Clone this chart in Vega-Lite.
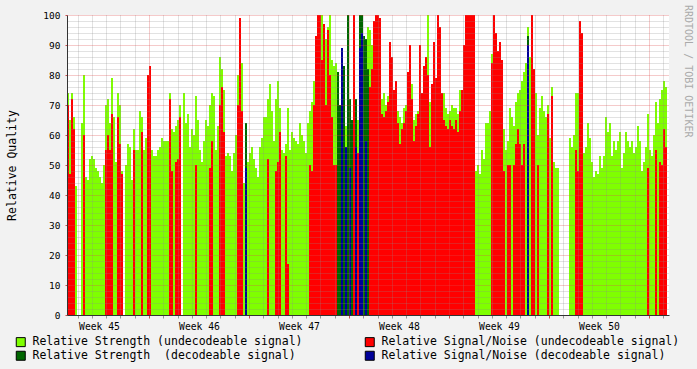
{
"$schema": "https://vega.github.io/schema/vega-lite/v6.json",
"width": 602, "height": 300,
"autosize": "none",
"padding": {"left": 67, "top": 15, "right": 28, "bottom": 54},
"background": "#F2F2F2",
"config": {
  "view": {"fill": "#FFFFFF", "stroke": null},
  "font": "DejaVu Sans Mono",
  "axis": {"labelFont": "DejaVu Sans Mono", "titleFont": "DejaVu Sans Mono", "labelColor": "#000000", "titleColor": "#000000", "titleFontWeight": "normal"}
},
"title": {"text": "RRDTOOL / TOBI OETIKER", "orient": "right", "anchor": "start", "frame": "group", "fontSize": 10, "font": "DejaVu Sans Mono", "fontWeight": "normal", "color": "#AAAAAA", "offset": 3, "dx": -10},
"data": {"values": [
{"t":1.26,"g":74,"r":70,"d":0,"b":0},{"t":1.40,"g":65,"r":47,"d":0,"b":0},{"t":1.54,"g":74,"r":72,"d":0,"b":0},{"t":1.68,"g":66,"r":62,"d":0,"b":0},{"t":1.82,"g":43,"r":0,"d":0,"b":0},
{"t":1.96,"g":0,"r":0,"d":0,"b":0},{"t":2.10,"g":0,"r":0,"d":0,"b":0},{"t":2.24,"g":64,"r":0,"d":0,"b":0},{"t":2.38,"g":80,"r":60,"d":0,"b":0},{"t":2.52,"g":46,"r":0,"d":0,"b":0},
{"t":2.66,"g":45,"r":0,"d":0,"b":0},{"t":2.80,"g":52,"r":0,"d":0,"b":0},{"t":2.94,"g":53,"r":0,"d":0,"b":0},{"t":3.08,"g":52,"r":0,"d":0,"b":0},{"t":3.22,"g":49,"r":0,"d":0,"b":0},
{"t":3.36,"g":48,"r":0,"d":0,"b":0},{"t":3.50,"g":46,"r":0,"d":0,"b":0},{"t":3.64,"g":44,"r":0,"d":0,"b":0},{"t":3.78,"g":50,"r":0,"d":0,"b":0},{"t":3.92,"g":70,"r":55,"d":0,"b":0},
{"t":4.06,"g":72,"r":60,"d":0,"b":0},{"t":4.20,"g":64,"r":55,"d":0,"b":0},{"t":4.34,"g":79,"r":67,"d":0,"b":0},{"t":4.48,"g":66,"r":0,"d":0,"b":0},{"t":4.62,"g":51,"r":0,"d":0,"b":0},
{"t":4.76,"g":74,"r":66,"d":0,"b":0},{"t":4.90,"g":70,"r":57,"d":0,"b":0},{"t":5.04,"g":48,"r":47,"d":0,"b":0},{"t":5.18,"g":0,"r":0,"d":0,"b":0},{"t":5.32,"g":50,"r":0,"d":0,"b":0},
{"t":5.46,"g":57,"r":0,"d":0,"b":0},{"t":5.60,"g":56,"r":0,"d":0,"b":0},{"t":5.74,"g":45,"r":0,"d":0,"b":0},{"t":5.88,"g":62,"r":55,"d":0,"b":0},{"t":6.02,"g":55,"r":0,"d":0,"b":0},
{"t":6.16,"g":55,"r":0,"d":0,"b":0},{"t":6.30,"g":68,"r":0,"d":0,"b":0},{"t":6.44,"g":66,"r":61,"d":0,"b":0},{"t":6.58,"g":55,"r":0,"d":0,"b":0},{"t":6.72,"g":59,"r":0,"d":0,"b":0},
{"t":6.86,"g":62,"r":80,"d":0,"b":0},{"t":7.00,"g":62,"r":83,"d":0,"b":0},{"t":7.14,"g":55,"r":0,"d":0,"b":0},{"t":7.28,"g":53,"r":0,"d":0,"b":0},{"t":7.42,"g":53,"r":0,"d":0,"b":0},
{"t":7.56,"g":55,"r":0,"d":0,"b":0},{"t":7.70,"g":56,"r":0,"d":0,"b":0},{"t":7.84,"g":59,"r":0,"d":0,"b":0},{"t":7.98,"g":58,"r":0,"d":0,"b":0},{"t":8.12,"g":58,"r":0,"d":0,"b":0},
{"t":8.26,"g":58,"r":0,"d":0,"b":0},{"t":8.40,"g":74,"r":72,"d":0,"b":0},{"t":8.54,"g":62,"r":48,"d":0,"b":0},{"t":8.68,"g":61,"r":0,"d":0,"b":0},{"t":8.82,"g":63,"r":51,"d":0,"b":0},
{"t":8.96,"g":65,"r":52,"d":0,"b":0},{"t":9.10,"g":70,"r":66,"d":0,"b":0},{"t":9.24,"g":0,"r":0,"d":0,"b":0},{"t":9.38,"g":74,"r":0,"d":0,"b":0},{"t":9.52,"g":64,"r":0,"d":0,"b":0},
{"t":9.66,"g":67,"r":0,"d":0,"b":0},{"t":9.80,"g":56,"r":0,"d":0,"b":0},{"t":9.94,"g":62,"r":0,"d":0,"b":0},{"t":10.08,"g":60,"r":0,"d":0,"b":0},{"t":10.22,"g":73,"r":50,"d":0,"b":0},
{"t":10.36,"g":65,"r":0,"d":0,"b":0},{"t":10.50,"g":55,"r":0,"d":0,"b":0},{"t":10.64,"g":51,"r":0,"d":0,"b":0},{"t":10.78,"g":58,"r":0,"d":0,"b":0},{"t":10.92,"g":65,"r":0,"d":0,"b":0},
{"t":11.06,"g":63,"r":0,"d":0,"b":0},{"t":11.20,"g":70,"r":49,"d":0,"b":0},{"t":11.34,"g":74,"r":58,"d":0,"b":0},{"t":11.48,"g":73,"r":0,"d":0,"b":0},{"t":11.62,"g":55,"r":0,"d":0,"b":0},
{"t":11.76,"g":63,"r":0,"d":0,"b":0},{"t":11.90,"g":86,"r":70,"d":0,"b":0},{"t":12.04,"g":82,"r":76,"d":0,"b":0},{"t":12.18,"g":75,"r":61,"d":0,"b":0},{"t":12.32,"g":53,"r":0,"d":0,"b":0},
{"t":12.46,"g":54,"r":0,"d":0,"b":0},{"t":12.60,"g":53,"r":0,"d":0,"b":0},{"t":12.74,"g":48,"r":0,"d":0,"b":0},{"t":12.88,"g":54,"r":0,"d":0,"b":0},{"t":13.02,"g":60,"r":0,"d":0,"b":0},
{"t":13.16,"g":80,"r":70,"d":0,"b":0},{"t":13.30,"g":87,"r":99,"d":0,"b":0},{"t":13.44,"g":84,"r":68,"d":0,"b":0},{"t":13.58,"g":44,"r":0,"d":0,"b":0},{"t":13.72,"g":55,"r":0,"d":64,"b":49},
{"t":13.86,"g":51,"r":0,"d":0,"b":0},{"t":14.00,"g":54,"r":0,"d":0,"b":0},{"t":14.14,"g":56,"r":0,"d":0,"b":0},{"t":14.28,"g":52,"r":0,"d":0,"b":0},{"t":14.42,"g":49,"r":0,"d":0,"b":0},
{"t":14.56,"g":46,"r":0,"d":0,"b":0},{"t":14.70,"g":56,"r":0,"d":0,"b":0},{"t":14.84,"g":59,"r":0,"d":0,"b":0},{"t":14.98,"g":66,"r":0,"d":0,"b":0},{"t":15.12,"g":66,"r":0,"d":0,"b":0},
{"t":15.26,"g":72,"r":52,"d":0,"b":0},{"t":15.40,"g":77,"r":0,"d":0,"b":0},{"t":15.54,"g":68,"r":0,"d":0,"b":0},{"t":15.68,"g":58,"r":0,"d":0,"b":0},{"t":15.82,"g":72,"r":48,"d":0,"b":0},
{"t":15.96,"g":78,"r":51,"d":0,"b":0},{"t":16.10,"g":69,"r":61,"d":0,"b":0},{"t":16.24,"g":55,"r":0,"d":0,"b":0},{"t":16.38,"g":54,"r":0,"d":0,"b":0},{"t":16.52,"g":57,"r":53,"d":0,"b":0},
{"t":16.66,"g":69,"r":17,"d":0,"b":0},{"t":16.80,"g":55,"r":0,"d":0,"b":0},{"t":16.94,"g":61,"r":0,"d":0,"b":0},{"t":17.08,"g":59,"r":0,"d":0,"b":0},{"t":17.22,"g":58,"r":0,"d":0,"b":0},
{"t":17.36,"g":57,"r":0,"d":0,"b":0},{"t":17.50,"g":64,"r":0,"d":0,"b":0},{"t":17.64,"g":60,"r":0,"d":0,"b":0},{"t":17.78,"g":58,"r":0,"d":0,"b":0},{"t":17.92,"g":54,"r":0,"d":0,"b":0},
{"t":18.06,"g":64,"r":0,"d":0,"b":0},{"t":18.20,"g":68,"r":50,"d":0,"b":0},{"t":18.34,"g":71,"r":48,"d":0,"b":0},{"t":18.48,"g":78,"r":70,"d":0,"b":0},{"t":18.62,"g":70,"r":93,"d":0,"b":0},
{"t":18.76,"g":80,"r":100,"d":0,"b":0},{"t":18.90,"g":100,"r":100,"d":0,"b":0},{"t":19.04,"g":100,"r":85,"d":0,"b":0},{"t":19.18,"g":90,"r":97,"d":0,"b":0},{"t":19.32,"g":92,"r":70,"d":0,"b":0},
{"t":19.46,"g":96,"r":95,"d":0,"b":0},{"t":19.60,"g":100,"r":80,"d":0,"b":0},{"t":19.74,"g":85,"r":66,"d":0,"b":0},{"t":19.88,"g":83,"r":50,"d":0,"b":0},{"t":20.02,"g":84,"r":50,"d":0,"b":0},
{"t":20.16,"g":68,"r":0,"d":81,"b":0},{"t":20.30,"g":0,"r":0,"d":70,"b":0},{"t":20.44,"g":0,"r":0,"d":83,"b":89},{"t":20.58,"g":0,"r":0,"d":83,"b":0},{"t":20.72,"g":63,"r":0,"d":0,"b":56},
{"t":20.86,"g":0,"r":0,"d":100,"b":0},{"t":21.00,"g":65,"r":0,"d":72,"b":49},{"t":21.14,"g":65,"r":0,"d":65,"b":0},{"t":21.28,"g":0,"r":100,"d":0,"b":0},{"t":21.42,"g":0,"r":0,"d":72,"b":56},
{"t":21.56,"g":65,"r":54,"d":0,"b":0},{"t":21.70,"g":0,"r":0,"d":100,"b":89},{"t":21.84,"g":0,"r":0,"d":100,"b":94},{"t":21.98,"g":0,"r":0,"d":93,"b":0},{"t":22.12,"g":0,"r":0,"d":92,"b":58},
{"t":22.26,"g":96,"r":0,"d":82,"b":0},{"t":22.40,"g":95,"r":76,"d":0,"b":0},{"t":22.54,"g":90,"r":82,"d":0,"b":0},{"t":22.68,"g":0,"r":98,"d":0,"b":0},{"t":22.82,"g":0,"r":100,"d":0,"b":0},
{"t":22.96,"g":0,"r":100,"d":0,"b":0},{"t":23.10,"g":0,"r":99,"d":0,"b":0},{"t":23.24,"g":72,"r":67,"d":0,"b":0},{"t":23.38,"g":74,"r":66,"d":0,"b":0},{"t":23.52,"g":70,"r":68,"d":0,"b":0},
{"t":23.66,"g":73,"r":71,"d":0,"b":0},{"t":23.80,"g":0,"r":91,"d":0,"b":0},{"t":23.94,"g":0,"r":86,"d":0,"b":0},{"t":24.08,"g":0,"r":75,"d":0,"b":0},{"t":24.22,"g":0,"r":78,"d":0,"b":0},
{"t":24.36,"g":68,"r":64,"d":0,"b":0},{"t":24.50,"g":66,"r":57,"d":0,"b":0},{"t":24.64,"g":64,"r":62,"d":0,"b":0},{"t":24.78,"g":69,"r":64,"d":0,"b":0},{"t":24.92,"g":70,"r":68,"d":0,"b":0},
{"t":25.06,"g":0,"r":81,"d":0,"b":0},{"t":25.20,"g":0,"r":90,"d":0,"b":0},{"t":25.34,"g":77,"r":72,"d":0,"b":0},{"t":25.48,"g":65,"r":58,"d":0,"b":0},{"t":25.62,"g":67,"r":63,"d":0,"b":0},
{"t":25.76,"g":68,"r":67,"d":0,"b":0},{"t":25.90,"g":0,"r":90,"d":0,"b":0},{"t":26.04,"g":0,"r":74,"d":0,"b":0},{"t":26.18,"g":0,"r":83,"d":0,"b":0},{"t":26.32,"g":0,"r":86,"d":0,"b":0},
{"t":26.46,"g":100,"r":80,"d":0,"b":0},{"t":26.60,"g":71,"r":56,"d":0,"b":0},{"t":26.74,"g":0,"r":77,"d":0,"b":0},{"t":26.88,"g":0,"r":91,"d":0,"b":0},{"t":27.02,"g":0,"r":79,"d":0,"b":0},
{"t":27.16,"g":0,"r":100,"d":0,"b":0},{"t":27.30,"g":0,"r":96,"d":0,"b":0},{"t":27.44,"g":0,"r":74,"d":0,"b":0},{"t":27.58,"g":74,"r":65,"d":0,"b":0},{"t":27.72,"g":69,"r":63,"d":0,"b":0},
{"t":27.86,"g":67,"r":62,"d":0,"b":0},{"t":28.00,"g":68,"r":65,"d":0,"b":0},{"t":28.14,"g":70,"r":63,"d":0,"b":0},{"t":28.28,"g":69,"r":62,"d":0,"b":0},{"t":28.42,"g":69,"r":65,"d":0,"b":0},
{"t":28.56,"g":67,"r":61,"d":0,"b":0},{"t":28.70,"g":75,"r":68,"d":0,"b":0},{"t":28.84,"g":0,"r":75,"d":0,"b":0},{"t":28.98,"g":0,"r":90,"d":0,"b":0},{"t":29.12,"g":0,"r":100,"d":0,"b":0},
{"t":29.26,"g":0,"r":100,"d":0,"b":0},{"t":29.40,"g":0,"r":100,"d":0,"b":0},{"t":29.54,"g":0,"r":100,"d":0,"b":0},{"t":29.68,"g":0,"r":100,"d":0,"b":0},{"t":29.82,"g":48,"r":0,"d":0,"b":0},
{"t":29.96,"g":50,"r":0,"d":0,"b":0},{"t":30.10,"g":47,"r":0,"d":0,"b":0},{"t":30.24,"g":55,"r":0,"d":0,"b":0},{"t":30.38,"g":52,"r":0,"d":0,"b":0},{"t":30.52,"g":64,"r":0,"d":0,"b":0},
{"t":30.66,"g":64,"r":0,"d":0,"b":0},{"t":30.80,"g":68,"r":0,"d":0,"b":0},{"t":30.94,"g":87,"r":84,"d":0,"b":0},{"t":31.08,"g":0,"r":100,"d":0,"b":0},{"t":31.22,"g":0,"r":94,"d":0,"b":0},
{"t":31.36,"g":0,"r":88,"d":0,"b":0},{"t":31.50,"g":0,"r":91,"d":0,"b":0},{"t":31.64,"g":0,"r":85,"d":0,"b":0},{"t":31.78,"g":62,"r":48,"d":0,"b":0},{"t":31.92,"g":55,"r":0,"d":0,"b":0},
{"t":32.06,"g":58,"r":50,"d":0,"b":0},{"t":32.20,"g":69,"r":50,"d":0,"b":0},{"t":32.34,"g":66,"r":0,"d":0,"b":0},{"t":32.48,"g":63,"r":50,"d":0,"b":0},{"t":32.62,"g":71,"r":57,"d":0,"b":0},
{"t":32.76,"g":74,"r":62,"d":0,"b":0},{"t":32.90,"g":75,"r":57,"d":0,"b":0},{"t":33.04,"g":78,"r":50,"d":0,"b":0},{"t":33.18,"g":81,"r":57,"d":0,"b":0},{"t":33.32,"g":84,"r":0,"d":0,"b":0},
{"t":33.46,"g":96,"r":0,"d":93,"b":90},{"t":33.60,"g":86,"r":0,"d":0,"b":0},{"t":33.74,"g":0,"r":100,"d":0,"b":0},{"t":33.88,"g":0,"r":82,"d":0,"b":0},{"t":34.02,"g":74,"r":0,"d":0,"b":0},
{"t":34.16,"g":60,"r":50,"d":0,"b":0},{"t":34.30,"g":69,"r":0,"d":0,"b":0},{"t":34.44,"g":73,"r":0,"d":0,"b":0},{"t":34.58,"g":68,"r":0,"d":0,"b":0},{"t":34.72,"g":66,"r":0,"d":0,"b":0},
{"t":34.86,"g":70,"r":67,"d":0,"b":0},{"t":35.00,"g":59,"r":0,"d":0,"b":0},{"t":35.14,"g":76,"r":73,"d":0,"b":0},{"t":35.28,"g":51,"r":0,"d":0,"b":0},{"t":35.42,"g":49,"r":0,"d":0,"b":0},
{"t":35.56,"g":49,"r":0,"d":0,"b":0},{"t":35.70,"g":0,"r":0,"d":0,"b":0},{"t":35.84,"g":0,"r":0,"d":0,"b":0},{"t":35.98,"g":0,"r":0,"d":0,"b":0},{"t":36.12,"g":0,"r":0,"d":0,"b":0},
{"t":36.26,"g":0,"r":0,"d":0,"b":0},{"t":36.40,"g":59,"r":0,"d":0,"b":0},{"t":36.54,"g":56,"r":0,"d":0,"b":0},{"t":36.68,"g":60,"r":0,"d":0,"b":0},{"t":36.82,"g":74,"r":55,"d":0,"b":0},
{"t":36.96,"g":74,"r":48,"d":0,"b":0},{"t":37.10,"g":77,"r":98,"d":0,"b":0},{"t":37.24,"g":57,"r":94,"d":0,"b":0},{"t":37.38,"g":54,"r":0,"d":0,"b":0},{"t":37.52,"g":56,"r":0,"d":0,"b":0},
{"t":37.66,"g":64,"r":0,"d":0,"b":0},{"t":37.80,"g":59,"r":0,"d":0,"b":0},{"t":37.94,"g":51,"r":0,"d":0,"b":0},{"t":38.08,"g":46,"r":0,"d":0,"b":0},{"t":38.22,"g":48,"r":0,"d":0,"b":0},
{"t":38.36,"g":47,"r":0,"d":0,"b":0},{"t":38.50,"g":53,"r":0,"d":0,"b":0},{"t":38.64,"g":49,"r":0,"d":0,"b":0},{"t":38.78,"g":53,"r":0,"d":0,"b":0},{"t":38.92,"g":66,"r":0,"d":0,"b":0},
{"t":39.06,"g":61,"r":0,"d":0,"b":0},{"t":39.20,"g":64,"r":0,"d":0,"b":0},{"t":39.34,"g":53,"r":0,"d":0,"b":0},{"t":39.48,"g":58,"r":0,"d":0,"b":0},{"t":39.62,"g":55,"r":0,"d":0,"b":0},
{"t":39.76,"g":58,"r":0,"d":0,"b":0},{"t":39.90,"g":61,"r":0,"d":0,"b":0},{"t":40.04,"g":49,"r":0,"d":0,"b":0},{"t":40.18,"g":54,"r":0,"d":0,"b":0},{"t":40.32,"g":61,"r":0,"d":0,"b":0},
{"t":40.46,"g":58,"r":0,"d":0,"b":0},{"t":40.60,"g":56,"r":0,"d":0,"b":0},{"t":40.74,"g":58,"r":0,"d":0,"b":0},{"t":40.88,"g":54,"r":0,"d":0,"b":0},{"t":41.02,"g":56,"r":0,"d":0,"b":0},
{"t":41.16,"g":63,"r":0,"d":0,"b":0},{"t":41.30,"g":58,"r":0,"d":0,"b":0},{"t":41.44,"g":48,"r":0,"d":0,"b":0},{"t":41.58,"g":51,"r":0,"d":0,"b":0},{"t":41.72,"g":56,"r":0,"d":0,"b":0},
{"t":41.86,"g":67,"r":49,"d":0,"b":0},{"t":42.00,"g":55,"r":0,"d":0,"b":0},{"t":42.14,"g":53,"r":0,"d":0,"b":0},{"t":42.28,"g":60,"r":0,"d":0,"b":0},{"t":42.42,"g":71,"r":55,"d":0,"b":0},
{"t":42.56,"g":64,"r":0,"d":0,"b":0},{"t":42.70,"g":72,"r":51,"d":0,"b":0},{"t":42.84,"g":75,"r":50,"d":0,"b":0},{"t":42.98,"g":78,"r":62,"d":0,"b":0},{"t":43.12,"g":76,"r":56,"d":0,"b":0},
{"t":43.26,"g":0,"r":0,"d":0,"b":0},{"t":43.40,"g":0,"r":0,"d":0,"b":0}
]},
"transform": [{"fold": ["g", "r", "d", "b"], "as": ["series", "v"]}],
"encoding": {
  "x": {"field": "t", "type": "quantitative",
    "scale": {"domain": [1.26, 43.4], "nice": false, "zero": false},
    "axis": {"title": null, "zindex": 1,
      "values": [2,3,3.5,4,5,6,7,8,9,10,10.5,11,12,13,14,15,16,17,17.5,18,19,20,21,22,23,24,24.5,25,26,27,28,29,30,31,31.5,32,33,34,35,36,37,38,38.5,39,40,41,42,43],
      "labelExpr": "datum.value % 1 !== 0 ? 'Week ' + (45 + floor(datum.value / 7)) : ''",
      "labelFontSize": 9.7, "labelPadding": 3, "labelFlush": false, "labelOverlap": false,
      "tickSize": 3,
      "gridColor": {"condition": {"test": "datum.value % 7 === 0", "value": "rgba(222,79,79,0.6)"}, "value": "rgba(140,140,140,0.5)"},
      "gridOpacity": {"condition": {"test": "datum.value % 1 !== 0", "value": 0}, "value": 1},
      "tickColor": {"condition": {"test": "datum.value % 7 === 0", "value": "rgba(200,60,60,0.9)"}, "value": "rgba(140,140,140,0.9)"},
      "tickOpacity": {"condition": {"test": "datum.value % 1 !== 0", "value": 0}, "value": 1},
      "gridDash": [1, 1],
      "domainColor": "#333333"}
  },
  "y": {"field": "v", "type": "quantitative",
    "scale": {"domain": [0, 100], "nice": false},
    "axis": {"title": "Relative Quality", "zindex": 1,
      "values": [0,2,4,6,8,10,12,14,16,18,20,22,24,26,28,30,32,34,36,38,40,42,44,46,48,50,52,54,56,58,60,62,64,66,68,70,72,74,76,78,80,82,84,86,88,90,92,94,96,98,100],
      "labelExpr": "datum.value % 10 === 0 ? datum.label : ''",
      "labelFontSize": 9.5, "labelPadding": 5, "labelOverlap": false, "labelFlush": false,
      "tickSize": 2,
      "tickOpacity": {"condition": {"test": "datum.value % 10 === 0", "value": 1}, "value": 0},
      "tickColor": "rgba(200,60,60,0.9)",
      "gridColor": {"condition": {"test": "datum.value % 10 === 0", "value": "rgba(222,79,79,0.6)"}, "value": "rgba(140,140,140,0.5)"},
      "gridDash": [1, 1],
      "domainColor": "#333333",
      "titleFontSize": 11.5, "titleX": -55, "titleY": 150, "titleAngle": -90, "titleAlign": "center", "titleBaseline": "middle"}
  }
},
"layer": [
  {"transform": [{"filter": "datum.series === 'g'"}],
   "mark": {"type": "area", "interpolate": "step-after"},
   "encoding": {
     "color": {"datum": "Relative Strength (undecodeable signal)", "type": "nominal",
       "scale": {"domain": ["Relative Strength (undecodeable signal)", "Relative Signal/Noise (undecodeable signal)", "Relative Strength \u00a0(decodeable signal)", "Relative Signal/Noise (decodeable signal)"],
                 "range": ["#7FFF00", "#FF0000", "#006600", "#000099"]},
       "legend": {"title": null, "orient": "none", "legendX": -52, "legendY": 321, "columns": 2, "direction": "horizontal",
         "symbolType": "square", "symbolSize": 81, "symbolStrokeColor": "#000000", "symbolStrokeWidth": 1, "symbolOpacity": 1,
         "labelFont": "DejaVu Sans Mono", "labelFontSize": 11.5, "labelLimit": 600, "labelOffset": 6,
         "columnPadding": 60, "rowPadding": 0, "padding": 0}}
   }},
  {"transform": [{"filter": "datum.series === 'r'"}],
   "mark": {"type": "area", "interpolate": "step-after"},
   "encoding": {"color": {"datum": "Relative Signal/Noise (undecodeable signal)", "type": "nominal"}}},
  {"transform": [{"filter": "datum.series === 'd'"}],
   "mark": {"type": "area", "interpolate": "step-after"},
   "encoding": {"color": {"datum": "Relative Strength \u00a0(decodeable signal)", "type": "nominal"}}},
  {"transform": [{"filter": "datum.series === 'b'"}],
   "mark": {"type": "area", "interpolate": "step-after"},
   "encoding": {"color": {"datum": "Relative Signal/Noise (decodeable signal)", "type": "nominal"}}}
]
}
